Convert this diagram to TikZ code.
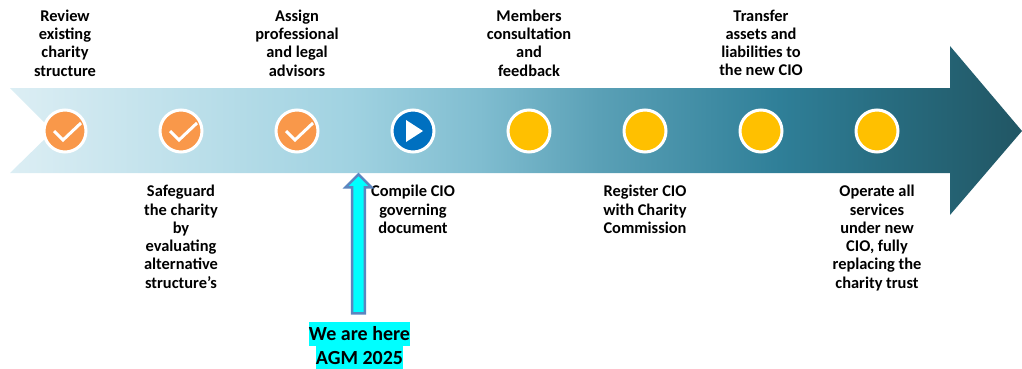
\documentclass[tikz,border=0pt]{standalone}
\usepackage{fontspec}
\setmainfont{Carlito}
\usepackage{tikz}
\usetikzlibrary{shapes.arrows}
\definecolor{tlA}{HTML}{DCEEF4}
\definecolor{tlB}{HTML}{A0D2E1}
\definecolor{tlC}{HTML}{80BDD0}
\definecolor{tlD}{HTML}{5AA0B6}
\definecolor{tlE}{HTML}{2F7F98}
\definecolor{tlF}{HTML}{276A7D}
\definecolor{tlG}{HTML}{215664}
\definecolor{doneorange}{HTML}{F9984A}
\definecolor{nowblue}{HTML}{0070C0}
\definecolor{todogold}{HTML}{FFC000}
\definecolor{hereborder}{HTML}{5B86C0}
\definecolor{herecyan}{HTML}{00FFFF}
\pgfdeclarehorizontalshading{timeline}{100bp}{
  color(0bp)=(tlA); color(25bp)=(tlA); color(41.8bp)=(tlB); color(48.2bp)=(tlC);
  color(54.1bp)=(tlD); color(63bp)=(tlE); color(69bp)=(tlF); color(75bp)=(tlG); color(100bp)=(tlG)}
\tikzset{
  step label/.style={font=\bfseries\fontsize{16.4}{18.3}\selectfont, align=center, inner sep=0pt},
  here label/.style={font=\bfseries\fontsize{20}{24}\selectfont, fill=herecyan, inner sep=0pt, text height=16pt, text depth=2pt, minimum height=24pt},
  stage/.style={circle, draw=white, line width=3pt, minimum size=42pt, inner sep=0pt},
  tick/.style={draw=white, line width=3pt}
}
\begin{document}
\begin{tikzpicture}[x=1pt,y=1pt]
    \useasboundingbox (0,0) rectangle (1022,-369);
    % timeline
    \shade [shading=timeline] (10,-88) -- (950,-88) -- (950,-46) -- (1022,-131) -- (950,-215) -- (950,-173) -- (10,-173) -- (53,-131) -- cycle;
    % stages
    \node [stage, fill=doneorange] (review) at (65,-131) {};
    \node [stage, fill=doneorange] (safeguard) at (181,-131) {};
    \node [stage, fill=doneorange] (assign) at (297,-131) {};
    \node [stage, fill=nowblue] (compile) at (413,-131) {};
    \node [stage, fill=todogold] (members) at (529,-131) {};
    \node [stage, fill=todogold] (register) at (645,-131) {};
    \node [stage, fill=todogold] (transfer) at (761,-131) {};
    \node [stage, fill=todogold] (operate) at (877,-131) {};
    \draw [tick] (review.center) ++(-11,0) -- ++(9,-9) -- ++(18,17);
    \draw [tick] (safeguard.center) ++(-11,0) -- ++(9,-9) -- ++(18,17);
    \draw [tick] (assign.center) ++(-11,0) -- ++(9,-9) -- ++(18,17);
    \fill [white] (compile.center) ++(-7,11) -- ++(0,-22) -- ++(17,11) -- cycle;
    % labels
    \node [step label, anchor=north] (reviewtext) at (65,-9.5) {Review\\existing\\charity\\structure};
    \node [step label, anchor=north] (assigntext) at (297,-9.5) {Assign\\professional\\and legal\\advisors};
    \node [step label, anchor=north] (memberstext) at (529,-9.5) {Members\\consultation\\and\\feedback};
    \node [step label, anchor=north] (transfertext) at (761,-9.5) {Transfer\\assets and\\liabilities to\\the new CIO};
    \node [step label, anchor=north] (safeguardtext) at (181,-185) {Safeguard\\the charity\\by\\evaluating\\alternative\\structure’s};
    \node [step label, anchor=north] (compiletext) at (413,-185) {Compile CIO\\governing\\document};
    \node [step label, anchor=north] (registertext) at (645,-185) {Register CIO\\with Charity\\Commission};
    \node [step label, anchor=north] (operatetext) at (877,-185) {Operate all\\services\\under new\\CIO, fully\\replacing the\\charity trust};
    % here marker
    \node [single arrow, draw=hereborder, fill=herecyan, line width=2.4pt, rotate=90, inner sep=0pt, outer sep=0pt, minimum height=139pt, minimum width=26pt, text width=0pt, text height=10pt, single arrow head extend=6.5pt, single arrow head indent=0pt] (herearrow) at (358.5,-247) {};
    \node [here label] (heretext) at (359.5,-333.5) {We are here};
    \node [here label] (agmtext) at (359.5,-357.5) {AGM 2025};
\end{tikzpicture}
\end{document}
